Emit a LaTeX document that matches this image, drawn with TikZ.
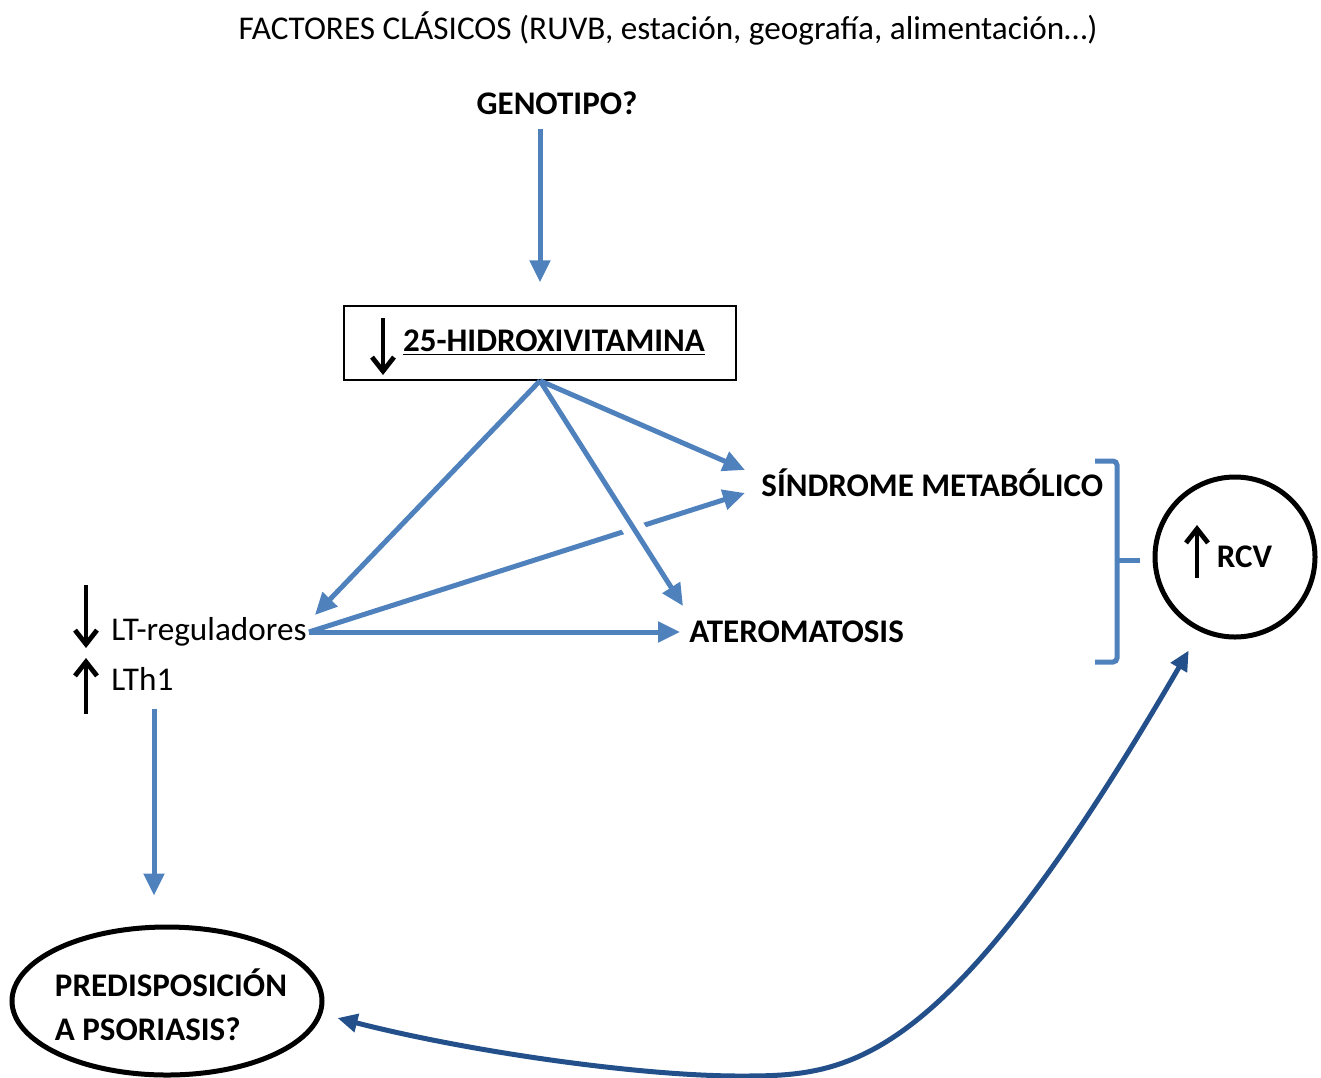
\documentclass[tikz,border=0pt]{standalone}
\usepackage{fontspec}
\setmainfont{Carlito}
\usetikzlibrary{positioning,arrows.meta,shapes.geometric}
\definecolor{lblue}{RGB}{79,129,189}
\definecolor{dblue}{RGB}{35,80,138}

\begin{document}
\begin{tikzpicture}[x=0.5pt, y=-0.5pt,
    t/.style={inner sep=1pt, font=\fontsize{16.6}{20}\selectfont},
    b/.style={inner sep=1pt, font=\fontsize{16.5}{22}\selectfont\bfseries},
    a/.style={-{Triangle[length=11pt,width=10pt]}, lblue, line width=2.5pt},
    k/.style={-{Straight Barb[length=7pt,width=11pt]}, line width=2.4pt},
    d/.style={{Triangle[length=10pt,width=9pt]}-{Triangle[length=10pt,width=9pt]}, dblue, line width=2.5pt}]
    \useasboundingbox (0,0) rectangle (1321,1077);

    \node[t] (F) at (668,28) {FACTORES CLÁSICOS (RUVB, estación, geografía, alimentación…)};
    \node[b] (G) at (557,103) {GENOTIPO?};
    \node[b, draw, line width=0.75pt, minimum width=196pt, minimum height=37pt] (HV) at (540,343) {\hspace*{14pt}\underline{25-HIDROXIVITAMINA}};
    \node[b, anchor=west] (S) at (759,483) {SÍNDROME METABÓLICO};
    \node[b, anchor=west] (At) at (687,632) {ATEROMATOSIS};
    \node[t, anchor=west] (LT) at (109,632) {LT-reguladores};
    \node[t, anchor=west] (Th) at (109,679) {LTh1};
    \node[b, draw, circle, line width=2.5pt, minimum size=80pt] (R) at (1235,557) {\hspace*{9.5pt}RCV};
    \node[draw, ellipse, line width=2.5pt, minimum width=155pt, minimum height=74pt] (Ps) at (167,1001) {};
    \node[b, align=left] (Ps_label) at (171,1005) {PREDISPOSICIÓN\\A PSORIASIS?};
    \coordinate (Ps_in) at ([shift={(-13,-29)}]Ps.north);

    % flechas negras
    \draw[k] (383,318) -- (383,375);
    \draw[k] (86,585) -- (86,648);
    \draw[k] (86,714) -- (86,658);
    \draw[k] (1197,578) -- (1197,525);

    \draw[a, shorten <=6pt, shorten >=11.5pt] (G.south -| HV.north) -- (HV.north);
    \draw[a] (HV.south) -- ([shift={(6,-17)}]LT.east);
    \draw[a] (HV.south) -- ([shift={(-14,-13)}]S.west);
    \draw[a] (LT.east) -- ([shift={(-7,0)}]At.west);
    \draw[a] (LT.east) -- ([shift={(-14,10)}]S.west);
    \path (HV.south) -- ([shift={(-4,-26)}]At.west) coordinate[pos=0.6] (w1) coordinate[pos=0.73] (w2);
    \draw[white, line width=11pt] (w1) -- (w2);
    \draw[a] (HV.south) -- ([shift={(-4,-26)}]At.west);
    \draw[a, shorten <=8pt] (Th.south -| Ps_in) -- (Ps_in);

    % llave
    \draw[lblue, line width=2.5pt, rounded corners=2pt] (1095,461) -- (1117,461) -- (1117,662) -- (1095,662);
    \draw[lblue, line width=2.5pt] (1117,560) -- (1140,560);

    \draw[d] ([shift={(13,17)}]Ps.east) .. controls (470,1052) and (640,1076) .. (740,1076)
        .. controls (850,1076) and (944,1072) .. ([shift={(-5,22)}]R.240);
\end{tikzpicture}
\end{document}
